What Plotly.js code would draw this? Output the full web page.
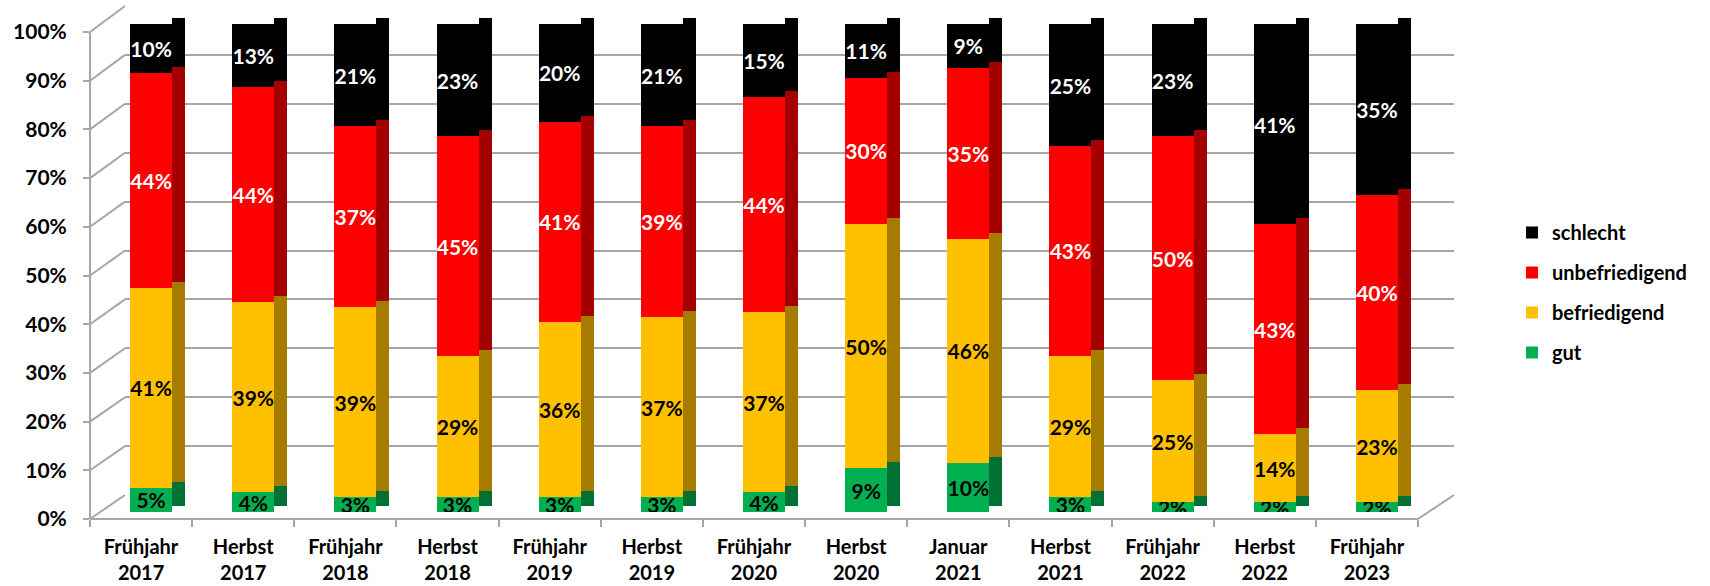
<!DOCTYPE html>
<html>
<head>
<meta charset="utf-8">
<script src="https://cdn.plot.ly/plotly-3.0.1.min.js"></script>
<style>
  html, body { margin: 0; padding: 0; background: #fff; }
  #chart { width: 1710px; height: 586px; }
</style>
</head>
<body>
<div id="chart"></div>
<script>
"use strict";

const categories = [
  "Frühjahr<br>2017", "Herbst<br>2017", "Frühjahr<br>2018", "Herbst<br>2018",
  "Frühjahr<br>2019", "Herbst<br>2019", "Frühjahr<br>2020", "Herbst<br>2020",
  "Januar<br>2021", "Herbst<br>2021", "Frühjahr<br>2022", "Herbst<br>2022",
  "Frühjahr<br>2023"
];
const gut            = [5, 4, 3, 3, 3, 3, 4, 9, 10, 3, 2, 2, 2];
const befriedigend   = [41, 39, 39, 29, 36, 37, 37, 50, 46, 29, 25, 14, 23];
const unbefriedigend = [44, 44, 37, 45, 41, 39, 44, 30, 35, 43, 50, 43, 40];
const schlecht       = [10, 13, 21, 23, 20, 21, 15, 11, 9, 25, 23, 41, 35];
const yTicks = [0, 10, 20, 30, 40, 50, 60, 70, 80, 90, 100];

const W = 1710, H = 586;
const fx = px => px / W;
const fy = py => 1 - py / H;

const FONT = "Lato, 'Open Sans', sans-serif";
const slot = (1418 - 90) / categories.length;

const series = [
  { name: "gut", y: gut, color: "#00B050", side: "#007034", text: "#000", rank: 4 },
  { name: "befriedigend", y: befriedigend, color: "#FFC000", side: "#A67C00", text: "#000", rank: 3 },
  { name: "unbefriedigend", y: unbefriedigend, color: "#FF0000", side: "#A50000", text: "#fff", rank: 2 },
  { name: "schlecht", y: schlecht, color: "#000000", side: "#000000", text: "#fff", rank: 1 },
];

const traces = [];

// back wall gridlines subplot (needs a trace to exist)
traces.push({ type: "scatter", x: [], y: [], xaxis: "x", yaxis: "y", showlegend: false, hoverinfo: "skip" });

// front faces
series.forEach(s => {
  traces.push({
    type: "bar",
    name: s.name,
    legendgroup: s.name,
    legendrank: s.rank,
    x: categories,
    y: s.y,
    xaxis: "x2",
    yaxis: "y2",
    offset: -11 / slot,
    width: 42 / slot,
    marker: { color: s.color, line: { width: 0 } },
    texttemplate: "%{y}%",
    textposition: "inside",
    insidetextanchor: "middle",
    textangle: 0,
    constraintext: "none",
    insidetextfont: { family: FONT, size: 21, color: s.text, weight: "bold" },
    hoverinfo: "skip",
  });
});

// side faces (darker shade, slightly raised)
series.forEach(s => {
  traces.push({
    type: "bar",
    name: s.name,
    legendgroup: s.name,
    showlegend: false,
    x: categories,
    y: s.y,
    xaxis: "x3",
    yaxis: "y3",
    offset: 31 / slot,
    width: 13 / slot,
    marker: { color: s.side, line: { width: 0 } },
    hoverinfo: "skip",
  });
});

// front axis with percent labels
traces.push({ type: "scatter", x: [], y: [], xaxis: "x2", yaxis: "y4", showlegend: false, hoverinfo: "skip" });

// 3D floor/wall diagonals
const shapes = yTicks.map(v => ({
  type: "line", xref: "paper", yref: "paper", layer: "below",
  x0: fx(90), y0: fy(519 - v * 4.87), x1: fx(125), y1: fy(495 - v * 4.89),
  line: { color: "#A6A6A6", width: 2 },
}));
shapes.push({
  type: "line", xref: "paper", yref: "paper", layer: "below",
  x0: fx(1418), y0: fy(519), x1: fx(1454), y1: fy(495),
  line: { color: "#A6A6A6", width: 2 },
});

const layout = {
  width: W,
  height: H,
  margin: { l: 0, r: 0, t: 0, b: 0, autoexpand: false },
  paper_bgcolor: "#fff",
  plot_bgcolor: "rgba(0,0,0,0)",
  barmode: "stack",
  font: { family: FONT, size: 20, color: "#000" },
  showlegend: true,
  legend: {
    x: fx(1512), y: fy(213), xanchor: "left", yanchor: "top",
    traceorder: "grouped",
    tracegroupgap: 11,
    font: { family: FONT, size: 20, color: "#000", weight: "bold" },
    itemwidth: 30,
    bgcolor: "rgba(0,0,0,0)",
  },
  xaxis: { domain: [fx(125), fx(1454)], anchor: "y", range: [0, 1], visible: false },
  yaxis: {
    domain: [fy(495), fy(6)], anchor: "x", range: [0, 100],
    tickvals: yTicks, showticklabels: false, ticks: "",
    showgrid: true, gridcolor: "#A6A6A6", gridwidth: 2, zeroline: false,
  },
  xaxis2: {
    domain: [fx(90), fx(1418)], anchor: "free", position: fy(519),
    type: "category", range: [-0.5, categories.length - 0.5],
    showline: true, linecolor: "#A6A6A6", linewidth: 2,
    ticks: "outside", tickson: "boundaries", ticklen: 7, tickcolor: "#A6A6A6", tickwidth: 2,
    ticklabelstandoff: 10,
    showgrid: false, zeroline: false,
    tickfont: { family: FONT, size: 20, color: "#000", weight: "bold" },
  },
  yaxis2: { domain: [fy(512), fy(24)], anchor: "x2", range: [0, 100], visible: false },
  xaxis3: { overlaying: "x2", type: "category", range: [-0.5, categories.length - 0.5], visible: false },
  yaxis3: { domain: [fy(506), fy(18)], anchor: "x3", range: [0, 100], visible: false },
  yaxis4: {
    domain: [fy(519), fy(32)], anchor: "free", position: fx(90), range: [0, 100],
    tickvals: yTicks, ticktext: yTicks.map(v => v + "%"),
    showline: true, linecolor: "#A6A6A6", linewidth: 2,
    ticks: "outside", ticklen: 6, tickcolor: "#A6A6A6", tickwidth: 2,
    ticklabelstandoff: 12,
    showgrid: false, zeroline: false,
    tickfont: { family: FONT, size: 21, color: "#000", weight: "bold" },
  },
  shapes: shapes,
};

Plotly.newPlot("chart", traces, layout, { displayModeBar: false, staticPlot: true });
</script>
</body>
</html>
